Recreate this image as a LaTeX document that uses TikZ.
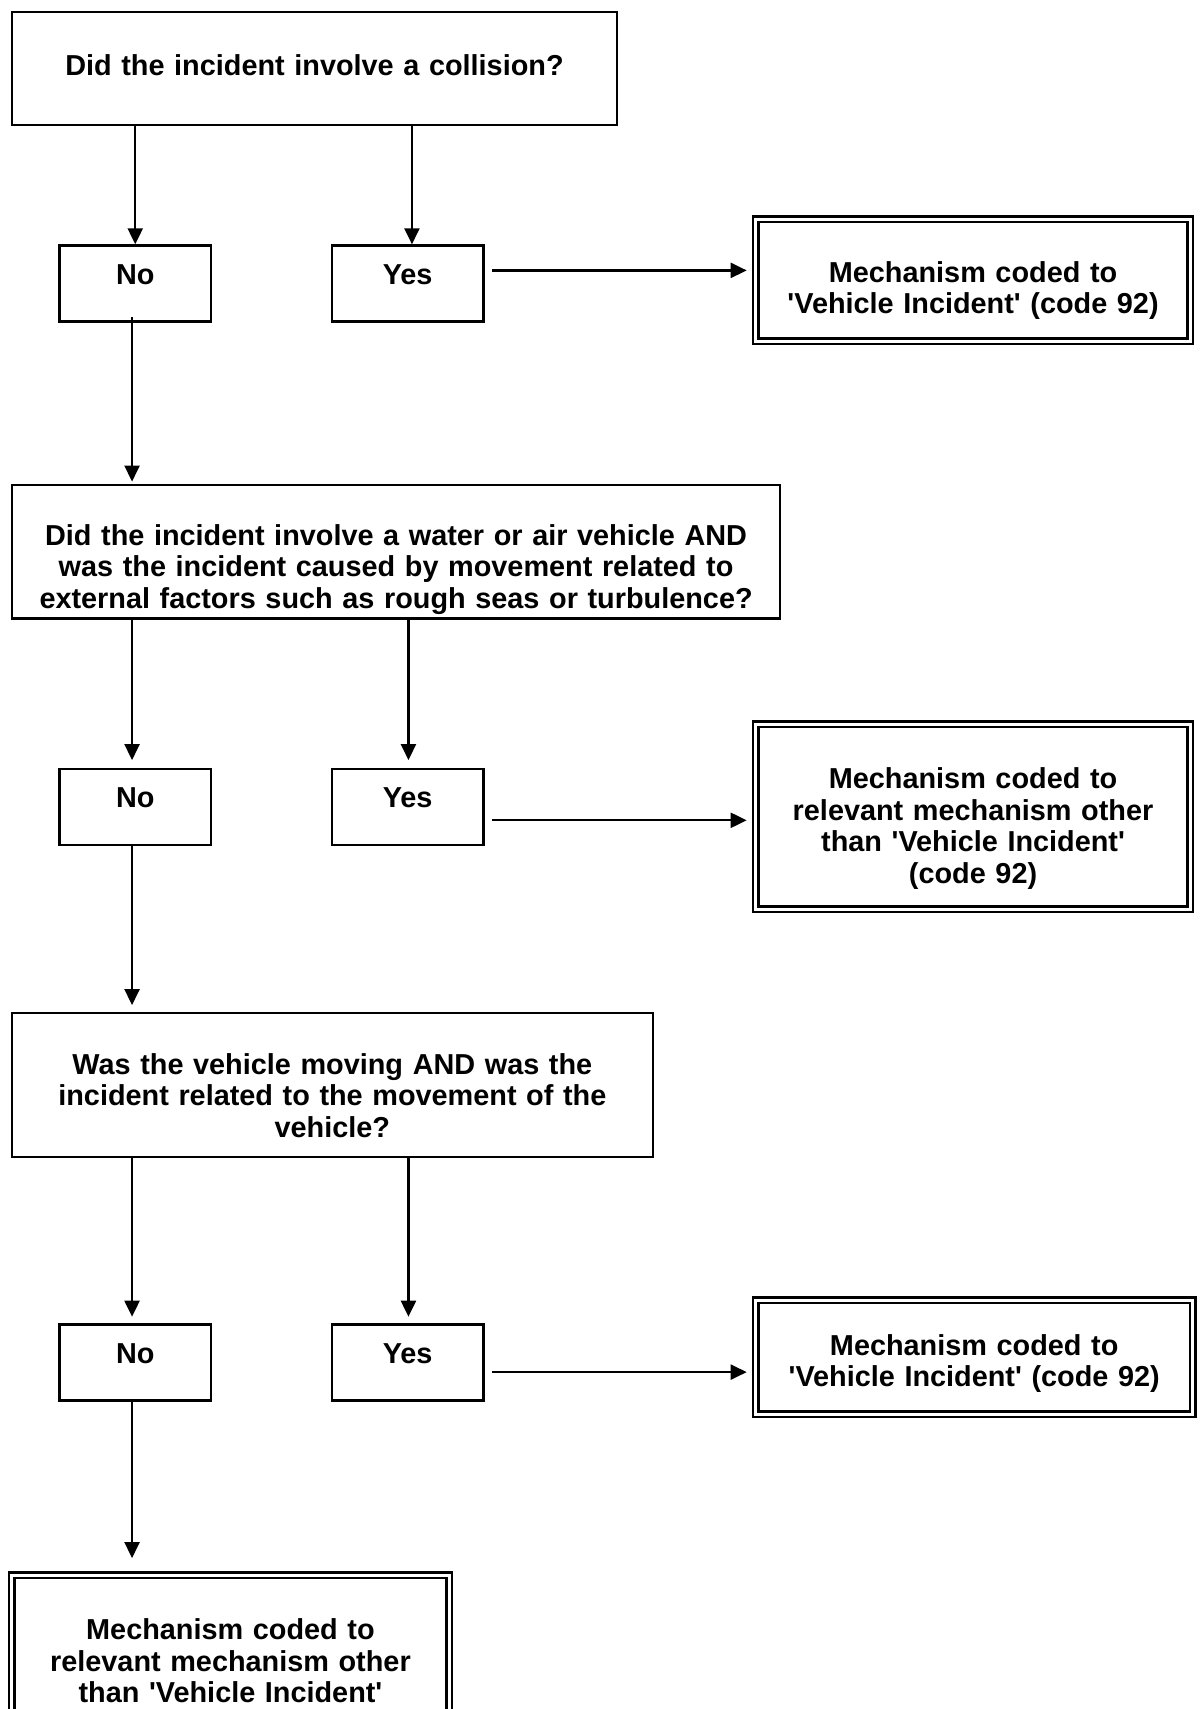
\documentclass[tikz,border=0pt]{standalone}
\usepackage{fontspec}
\setmainfont{Liberation Sans}[Ligatures=TeXOff]
\usepackage{tikz}
\usetikzlibrary{arrows.meta}

\begin{document}
\begin{tikzpicture}[x=0.5pt,y=-0.5pt,
    font=\fontsize{14.42pt}{15.75pt}\selectfont\bfseries,
    box/.style={draw,line width=1.1pt,inner sep=0pt,align=center,anchor=north west},
    answer/.style={box,text width=75.85pt,text height=19.5pt,text depth=18.5pt},
    outcome/.style={box,double,double distance=1.5pt,line width=1.3pt},
    arr/.style={line width=1.1pt,-{Triangle[length=8pt,width=7.5pt]}}]
\useasboundingbox (0,0) rectangle (1200,1709);

\node[box,text width=302.65pt,text height=31.65pt,text depth=25pt] (q1) at (10.7,10.7)
    {Did the incident involve a collision?};
\node[answer] (no1) at (58.3,244.3) {No};
\node[answer] (yes1) at (330.7,244.3) {Yes};
\node[outcome,text width=217.25pt,text height=31.5pt,text depth=29.35pt] (d1) at (754.5,218)
    {Mechanism coded to\\'Vehicle Incident' (code 92)};

\node[box,text width=384pt,text height=30pt,text depth=36.65pt] (q2) at (11,484)
    {Did the incident involve a water or air vehicle AND\\was the incident caused by movement related to\\external factors such as rough seas or turbulence?};
\node[answer] (no2) at (58.3,767.7) {No};
\node[answer] (yes2) at (330.7,767.7) {Yes};
\node[outcome,text width=217.25pt,text height=32.15pt,text depth=60.35pt] (d2) at (754.5,723)
    {Mechanism coded to\\relevant mechanism other\\than 'Vehicle Incident'\\(code 92)};

\node[box,text width=320.55pt,text height=30.8pt,text depth=41.35pt] (q3) at (10.7,1011.7)
    {Was the vehicle moving AND was the\\incident related to the movement of the\\vehicle?};
\node[answer] (no3) at (58.3,1323.3) {No};
\node[answer] (yes3) at (330.7,1323.3) {Yes};
\node[outcome,text width=218.4pt,text height=27.5pt,text depth=29.5pt] (d3) at (754.5,1299)
    {Mechanism coded to\\'Vehicle Incident' (code 92)};

\node[outcome,text width=218.85pt,text height=32.3pt,text depth=60.85pt] (d4) at (10.3,1573.7)
    {Mechanism coded to\\relevant mechanism other\\than 'Vehicle Incident'};

\draw[arr] (q1.south -| no1.north) -- (no1.north);
\draw[arr] ([xshift=2.15pt]q1.south -| yes1.north) -- ([xshift=2.15pt]yes1.north);
\draw[arr,shorten <=3.85pt,shorten >=3.9pt] ([yshift=6.5pt]yes1.east) -- ([yshift=6.5pt]yes1.east -| d1.west);
\draw[arr,shorten >=1.2pt] ([xshift=-1.6pt,yshift=2.8pt]no1.south) -- ([xshift=-1.6pt]q2.north -| no1.south);

\draw[arr,shorten >=3.8pt] ([xshift=-1.6pt]q2.south -| no2.north) -- ([xshift=-1.6pt]no2.north);
\draw[arr,shorten >=3.8pt] ([xshift=0.4pt]q2.south -| yes2.north) -- ([xshift=0.4pt]yes2.north);
\draw[arr,shorten <=3.85pt,shorten >=3.9pt] ([yshift=-6.75pt]yes2.east) -- ([yshift=-6.75pt]yes2.east -| d2.west);
\draw[arr,shorten >=3.3pt] ([xshift=-1.6pt]no2.south) -- ([xshift=-1.6pt]q3.north -| no2.south);

\draw[arr,shorten >=3.3pt] ([xshift=-1.6pt]q3.south -| no3.north) -- ([xshift=-1.6pt]no3.north);
\draw[arr,shorten >=3.3pt] ([xshift=0.4pt]q3.south -| yes3.north) -- ([xshift=0.4pt]yes3.north);
\draw[arr,shorten <=3.85pt,shorten >=3.9pt] ([yshift=-4.85pt]yes3.east) -- ([yshift=-4.85pt]yes3.east -| d3.west);
\draw[arr,shorten >=7.8pt] ([xshift=-1.6pt]no3.south) -- ([xshift=-1.6pt]d4.north -| no3.south);
\end{tikzpicture}
\end{document}
